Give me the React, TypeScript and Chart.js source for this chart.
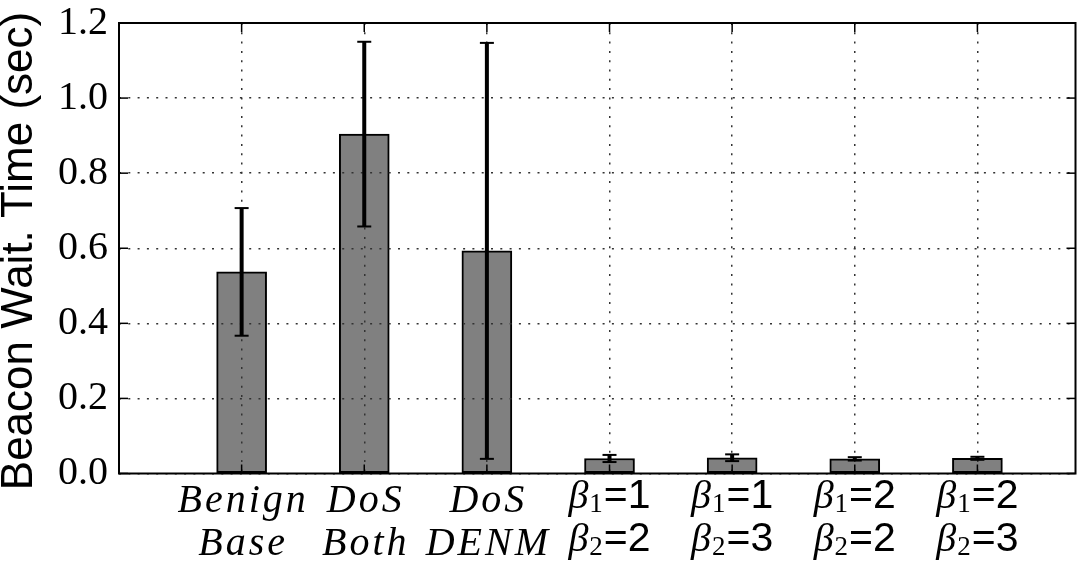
import React, { useEffect, useRef } from 'react';
import { Chart, registerables } from 'chart.js';

Chart.register(...registerables);

const categoryTop = ['Benign', 'DoS', 'DoS', 'β1=1', 'β1=1', 'β1=2', 'β1=2'];
const categoryBottom = ['Base', 'Both', 'DENM', 'β2=2', 'β2=3', 'β2=2', 'β2=3'];
const meanWait = [0.537, 0.904, 0.593, 0.040, 0.042, 0.039, 0.0405];
const errWait = [0.170, 0.246, 0.554, 0.0095, 0.009, 0.0045, 0.004];
const yMin = 0;
const yMax = 1.2;
const yStep = 0.2;
const yTitle = 'Beacon Wait. Time (sec)';

function line(ctx: CanvasRenderingContext2D, x1: number, y1: number, x2: number, y2: number) {
  ctx.beginPath();
  ctx.moveTo(x1, y1);
  ctx.lineTo(x2, y2);
  ctx.stroke();
}

function drawSpaced(ctx: CanvasRenderingContext2D, text: string, cx: number, y: number, spacing: number) {
  const chars = [...text];
  const widths = chars.map((ch) => ctx.measureText(ch).width);
  const total = widths.reduce((a, b) => a + b, 0) + spacing * (chars.length - 1);
  let x = cx - total / 2;
  ctx.textAlign = 'left';
  chars.forEach((ch, i) => {
    ctx.fillText(ch, x, y);
    x += widths[i] + spacing;
  });
}

function drawBeta(ctx: CanvasRenderingContext2D, label: string, cx: number, y: number) {
  const greek = label[0];
  const sub = label[1];
  const rest = label.slice(2);
  const fG = 'italic 40px "Liberation Serif"';
  const fS = '27px "Liberation Serif"';
  const fR = '41px "Liberation Sans"';
  ctx.font = fG;
  const wG = ctx.measureText(greek).width;
  ctx.font = fS;
  const wS = ctx.measureText(sub).width;
  ctx.font = fR;
  const wR = ctx.measureText(rest).width;
  const gap = 1;
  const total = wG + wS + wR + gap * 2;
  let x = cx - total / 2;
  ctx.textAlign = 'left';
  ctx.font = fG;
  ctx.fillText(greek, x, y);
  x += wG + gap;
  ctx.font = fS;
  ctx.fillText(sub, x, y + 4);
  x += wS + gap;
  ctx.font = fR;
  ctx.fillText(rest, x, y);
}

const decorPlugin = {
  id: 'decor',
  afterDraw(chart: any) {
    const { ctx, chartArea: a, scales } = chart;
    const xs = scales.x;
    const ys = scales.y;
    const meta = chart.getDatasetMeta(0);
    ctx.save();
    ctx.strokeStyle = '#000';
    ctx.fillStyle = '#000';
    ctx.lineCap = 'butt';
    // error bars
    meanWait.forEach((m, i) => {
      const x = meta.data[i].x;
      const yt = ys.getPixelForValue(m + errWait[i]);
      const yb = ys.getPixelForValue(m - errWait[i]);
      ctx.lineWidth = 4;
      line(ctx, x, yt, x, yb);
      ctx.lineWidth = 2;
      line(ctx, x - 7, yt, x + 7, yt);
      line(ctx, x - 7, yb, x + 7, yb);
    });
    // inward ticks
    ctx.lineWidth = 1.5;
    categoryTop.forEach((_, i) => {
      const x = xs.getPixelForValue(i);
      line(ctx, x, a.bottom, x, a.bottom - 9);
      line(ctx, x, a.top, x, a.top + 9);
    });
    ys.ticks.forEach((t: any) => {
      const y = ys.getPixelForValue(t.value);
      line(ctx, a.left, y, a.left + 9, y);
      line(ctx, a.right, y, a.right - 9, y);
    });
    // frame
    ctx.lineWidth = 2;
    ctx.strokeRect(a.left, a.top, a.right - a.left, a.bottom - a.top);
    // x labels
    ctx.textBaseline = 'alphabetic';
    categoryTop.forEach((top, i) => {
      const cx = xs.getPixelForValue(i);
      const bottom = categoryBottom[i];
      if (top.startsWith('β')) {
        drawBeta(ctx, top, cx, 508);
        drawBeta(ctx, bottom, cx, 551);
      } else {
        ctx.font = 'italic 40px "Liberation Serif"';
        drawSpaced(ctx, top, cx, 512, 3);
        drawSpaced(ctx, bottom, cx, 555, 3);
      }
    });
    // y title
    ctx.save();
    ctx.translate(32, 251);
    ctx.rotate(-Math.PI / 2);
    ctx.font = '44px "Liberation Sans"';
    ctx.textAlign = 'center';
    ctx.textBaseline = 'alphabetic';
    ctx.fillText(yTitle, 0, 0);
    ctx.restore();
    ctx.restore();
  },
};

export default function App() {
  const ref = useRef<HTMLCanvasElement>(null);
  useEffect(() => {
    if (!ref.current) return;
    const chart = new Chart(ref.current, {
      type: 'bar',
      data: {
        datasets: [
          {
            data: meanWait.map((v, i) => ({ x: i, y: v })),
            backgroundColor: '#808080',
            borderColor: '#000',
            borderWidth: 2,
            borderSkipped: false,
            barThickness: 50,
          },
        ],
      },
      options: {
        responsive: false,
        animation: false,
        events: [],
        layout: { padding: { top: 23, right: 4.5, left: 0, bottom: 0 } },
        plugins: { legend: { display: false }, tooltip: { enabled: false } },
        scales: {
          x: {
            type: 'linear',
            min: -1,
            max: 6.8,
            offset: false,
            ticks: { display: false, stepSize: 1, includeBounds: false },
            grid: { color: '#333', lineWidth: 1.5, drawTicks: false, offset: false, z: 1 },
            border: { display: false, dash: [2, 7.3] },
            afterFit: (s: any) => {
              s.height = 87.5;
            },
          },
          y: {
            min: yMin,
            max: yMax,
            ticks: {
              stepSize: yStep,
              padding: 11,
              color: '#000',
              font: { family: '"Liberation Serif"', size: 40, lineHeight: 0.5 },
              callback: (v: any) => Number(v).toFixed(1),
            },
            grid: { color: '#333', lineWidth: 1.5, drawTicks: false, z: 1 },
            border: { display: false, dash: [2, 7.3] },
            afterFit: (s: any) => {
              s.width = 119;
            },
          },
        },
      },
      plugins: [decorPlugin],
    });
    return () => chart.destroy();
  }, []);
  return (
    <div style={{ position: 'fixed', left: 0, top: 0, width: 1080, height: 561, background: '#fff' }}>
      <canvas ref={ref} width={1080} height={561} style={{ display: 'block' }} />
    </div>
  );
}
